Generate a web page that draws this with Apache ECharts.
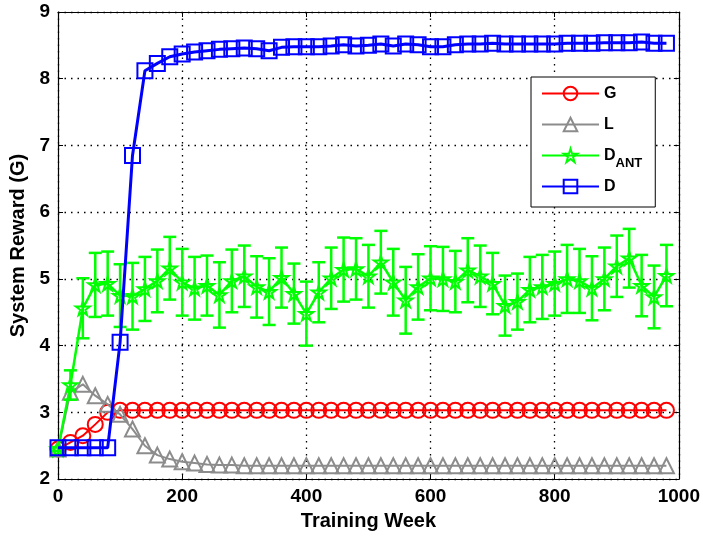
<!DOCTYPE html>
<html>
<head>
<meta charset="utf-8">
<script src="https://cdn.jsdelivr.net/npm/echarts@6/dist/echarts.min.js"></script>
<style>
  html, body { margin: 0; padding: 0; background: #fff; }
  #chart { width: 703px; height: 536px; }
</style>
</head>
<body>
<div id="chart"></div>
<script>
var weeks = [0, 20, 40, 60, 80, 100, 120, 140, 160, 180,
  200, 220, 240, 260, 280, 300, 320, 340, 360, 380,
  400, 420, 440, 460, 480, 500, 520, 540, 560, 580,
  600, 620, 640, 660, 680, 700, 720, 740, 760, 780,
  800, 820, 840, 860, 880, 900, 920, 940, 960, 980];

var gValues = [2.45, 2.55, 2.65, 2.82, 3.0, 3.03, 3.03, 3.03, 3.03, 3.03,
  3.03, 3.03, 3.03, 3.03, 3.03, 3.03, 3.03, 3.03, 3.03, 3.03,
  3.03, 3.03, 3.03, 3.03, 3.03, 3.03, 3.03, 3.03, 3.03, 3.03,
  3.03, 3.03, 3.03, 3.03, 3.03, 3.03, 3.03, 3.03, 3.03, 3.03,
  3.03, 3.03, 3.03, 3.03, 3.03, 3.03, 3.03, 3.03, 3.03, 3.03];

var lValues = [2.45, 3.3, 3.42, 3.25, 3.12, 2.97, 2.75, 2.5, 2.36, 2.3,
  2.26, 2.24, 2.22, 2.21, 2.21, 2.2, 2.2, 2.2, 2.2, 2.2,
  2.2, 2.2, 2.2, 2.2, 2.2, 2.2, 2.2, 2.2, 2.2, 2.2,
  2.2, 2.2, 2.2, 2.2, 2.2, 2.2, 2.2, 2.2, 2.2, 2.2,
  2.2, 2.2, 2.2, 2.2, 2.2, 2.2, 2.2, 2.2, 2.2, 2.2];

var dantValues = [2.45, 3.41, 4.56, 4.91, 4.93, 4.75, 4.74, 4.85, 4.97, 5.16,
  4.95, 4.86, 4.9, 4.76, 4.97, 5.04, 4.88, 4.81, 5.02, 4.78,
  4.48, 4.8, 5.01, 5.14, 5.15, 5.04, 5.25, 4.95, 4.68, 4.88,
  5.01, 5.0, 4.96, 5.13, 5.04, 4.93, 4.6, 4.66, 4.84, 4.88,
  4.93, 5.0, 4.97, 4.86, 5.0, 5.19, 5.31, 4.9, 4.73, 5.05];

var dantErr = [0.03, 0.22, 0.45, 0.48, 0.48, 0.47, 0.5, 0.48, 0.47, 0.47,
  0.5, 0.47, 0.45, 0.49, 0.47, 0.46, 0.46, 0.5, 0.45, 0.45,
  0.48, 0.45, 0.46, 0.48, 0.46, 0.47, 0.47, 0.5, 0.5, 0.49,
  0.48, 0.48, 0.46, 0.48, 0.46, 0.46, 0.45, 0.42, 0.49, 0.48,
  0.48, 0.51, 0.48, 0.48, 0.47, 0.46, 0.44, 0.46, 0.47, 0.46];

var dValues = [2.47, 2.47, 2.47, 2.47, 2.47, 4.05, 6.85, 8.12, 8.23, 8.33,
  8.37, 8.4, 8.42, 8.44, 8.45, 8.46, 8.45, 8.42, 8.47, 8.48,
  8.48, 8.48, 8.49, 8.51, 8.49, 8.5, 8.52, 8.49, 8.52, 8.51,
  8.48, 8.48, 8.51, 8.52, 8.52, 8.53, 8.52, 8.52, 8.52, 8.52,
  8.52, 8.53, 8.53, 8.53, 8.54, 8.54, 8.54, 8.55, 8.53, 8.53];

var xTicks = [0, 200, 400, 600, 800, 1000];
var yTicks = [2, 3, 4, 5, 6, 7, 8, 9];

var starPath = 'path://M50,2 L61,37 L98,37 L68,59 L79,95 L50,73 L21,95 L32,59 L2,37 L39,37 Z';

function pairs(vals) {
  return weeks.map(function (w, i) { return [w, vals[i]]; });
}

var chart = echarts.init(document.getElementById('chart'));

function lineSeries(name, vals, color, symbol, size, width, z) {
  return {
    name: name,
    type: 'line',
    data: pairs(vals),
    z: z,
    symbol: symbol,
    symbolSize: size,
    symbolKeepAspect: true,
    showAllSymbol: true,
    lineStyle: { color: color, width: width },
    itemStyle: { color: 'rgba(255,255,255,0)', borderColor: color, borderWidth: 2 },
    emphasis: { disabled: true },
    animation: false
  };
}

var axisFont = { fontFamily: 'Liberation Sans', fontWeight: 'bold', fontSize: 19, color: '#000' };

chart.setOption({
  backgroundColor: '#fff',
  grid: { left: 58, right: 22, top: 12, bottom: 55 },
  legend: {
    orient: 'vertical',
    left: 531,
    top: 77,
    padding: [2, 13, 6, 10],
    itemGap: 2,
    itemWidth: 57,
    itemHeight: 17,
    backgroundColor: '#fff',
    borderColor: '#000',
    borderWidth: 1,
    data: ['G', 'L', 'DANT', 'D'],
    formatter: function (name) {
      if (name === 'DANT') {
        return '{m|D}{s|ANT}';
      }
      return '{m|' + name + '}';
    },
    textStyle: {
      lineHeight: 29,
      rich: {
        m: { fontFamily: 'Liberation Sans', fontWeight: 'bold', fontSize: 16, color: '#000', lineHeight: 29, verticalAlign: 'middle' },
        s: { fontFamily: 'Liberation Sans', fontWeight: 'bold', fontSize: 13, color: '#000', lineHeight: 13, verticalAlign: 'bottom' }
      }
    }
  },
  xAxis: [{
    type: 'value',
    min: 0,
    max: 1000,
    interval: 200,
    name: 'Training Week',
    nameLocation: 'middle',
    nameGap: 30,
    nameTextStyle: { fontFamily: 'Liberation Sans', fontWeight: 'bold', fontSize: 20, color: '#000' },
    axisLine: { show: true, onZero: false, lineStyle: { color: '#000', width: 1.2 } },
    axisTick: { show: true, inside: true, length: 5, lineStyle: { color: '#000' } },
    axisLabel: Object.assign({ margin: 8, formatter: function (v) { return xTicks.indexOf(v) >= 0 ? String(v) : ''; } }, axisFont),
    splitLine: { show: true, lineStyle: { color: '#000', width: 1.3, type: [1.5, 5] } }
  }, {
    type: 'value',
    position: 'top',
    min: 0,
    max: 1000,
    interval: 200,
    axisLine: { show: true, onZero: false, lineStyle: { color: '#000', width: 1.2 } },
    axisTick: { show: true, inside: true, length: 5, lineStyle: { color: '#000' } },
    axisLabel: { show: false },
    splitLine: { show: false }
  }],
  yAxis: [{
    type: 'value',
    min: 2,
    max: 9,
    interval: 1,
    name: 'System Reward (G)',
    nameLocation: 'middle',
    nameGap: 27,
    nameTextStyle: { fontFamily: 'Liberation Sans', fontWeight: 'bold', fontSize: 20, color: '#000' },
    axisLine: { show: true, onZero: false, lineStyle: { color: '#000', width: 1.2 } },
    axisTick: { show: true, inside: true, length: 5, lineStyle: { color: '#000' } },
    axisLabel: Object.assign({ margin: 8, formatter: function (v) { return yTicks.indexOf(v) >= 0 ? String(v) : ''; } }, axisFont),
    splitLine: { show: true, lineStyle: { color: '#000', width: 1.3, type: [1.5, 5] } }
  }, {
    type: 'value',
    position: 'right',
    min: 2,
    max: 9,
    interval: 1,
    axisLine: { show: true, onZero: false, lineStyle: { color: '#000', width: 1.2 } },
    axisTick: { show: true, inside: true, length: 5, lineStyle: { color: '#000' } },
    axisLabel: { show: false },
    splitLine: { show: false }
  }],
  series: [
    lineSeries('G', gValues, '#ff0000', 'circle', 15, 2, 2),
    lineSeries('L', lValues, '#8c8c8c', 'triangle', 15, 2, 3),
    {
      name: 'DANT-err',
      type: 'custom',
      z: 4,
      animation: false,
      data: weeks.map(function (w, i) { return [w, dantValues[i] - dantErr[i], dantValues[i] + dantErr[i]]; }),
      renderItem: function (params, api) {
        var lo = api.coord([api.value(0), api.value(1)]);
        var hi = api.coord([api.value(0), api.value(2)]);
        var hw = 6.5;
        var st = { stroke: '#00ff00', lineWidth: 2.5 };
        return {
          type: 'group',
          children: [
            { type: 'line', shape: { x1: lo[0], y1: lo[1], x2: hi[0], y2: hi[1] }, style: st },
            { type: 'line', shape: { x1: lo[0] - hw, y1: lo[1], x2: lo[0] + hw, y2: lo[1] }, style: st },
            { type: 'line', shape: { x1: hi[0] - hw, y1: hi[1], x2: hi[0] + hw, y2: hi[1] }, style: st }
          ]
        };
      }
    },
    lineSeries('DANT', dantValues, '#00ff00', starPath, 14, 2.5, 5),
    lineSeries('D', dValues, '#0000ff', 'rect', 15, 3, 6)
  ]
});
</script>
</body>
</html>
